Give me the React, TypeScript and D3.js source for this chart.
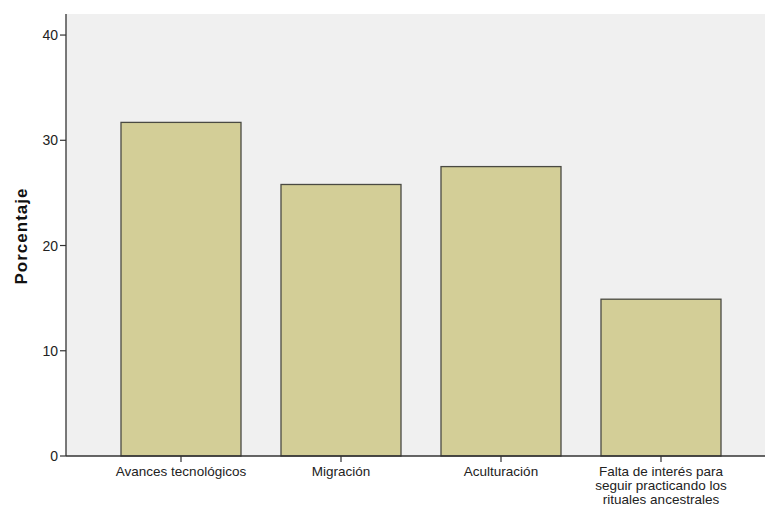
import React from "react";
import * as d3 from "d3";

const categories: string[][] = [
  ["Avances tecnológicos"],
  ["Migración"],
  ["Aculturación"],
  ["Falta de interés para", "seguir practicando los", "rituales ancestrales"],
];
const values: number[] = [31.7, 25.8, 27.5, 14.9];
const yTicks: number[] = [0, 10, 20, 30, 40];
const yLabel = "Porcentaje";

export default function App() {
  const W = 765, H = 505;
  const left = 66, top = 14, bottom = 456;
  const x = d3
    .scaleBand<number>()
    .domain(d3.range(values.length))
    .range([left, 776])
    .paddingInner(0.25)
    .paddingOuter(0.34375);
  const y = d3.scaleLinear().domain([0, 42]).range([bottom, top]);
  const font = "'Liberation Sans', Arial, sans-serif";
  const axisColor = "#333";
  return (
    <svg
      width={W}
      height={H}
      style={{ position: "absolute", left: 0, top: 0, background: "#fff" }}
    >
      <rect x={left} y={top} width={W - left} height={bottom - top} fill="#f0f0f0" />
      {values.map((v, i) => (
        <rect
          key={i}
          x={x(i)!}
          y={y(v)}
          width={x.bandwidth()}
          height={bottom - y(v)}
          fill="#d3ce97"
          stroke="#4a4a42"
          strokeWidth={1.3}
        />
      ))}
      <line x1={left} x2={left} y1={top} y2={bottom} stroke={axisColor} strokeWidth={1.3} />
      <line x1={left} x2={W} y1={bottom} y2={bottom} stroke={axisColor} strokeWidth={1.3} />
      {yTicks.map((t) => (
        <g key={t}>
          <line x1={left - 6} x2={left} y1={y(t)} y2={y(t)} stroke={axisColor} strokeWidth={1.2} />
          <text
            x={left - 8}
            y={y(t)}
            dy="0.36em"
            textAnchor="end"
            fontFamily={font}
            fontSize={14}
            fill="#222"
          >
            {t}
          </text>
        </g>
      ))}
      {categories.map((lines, i) => {
        const cx = x(i)! + x.bandwidth() / 2;
        return (
          <g key={i}>
            <line x1={cx} x2={cx} y1={bottom} y2={bottom + 6} stroke={axisColor} strokeWidth={1.2} />
            {lines.map((ln, j) => (
              <text
                key={j}
                x={cx}
                y={476 + j * 14}
                textAnchor="middle"
                fontFamily={font}
                fontSize={13.5}
                fill="#222"
              >
                {ln}
              </text>
            ))}
          </g>
        );
      })}
      <text
        transform={`translate(27, 236) rotate(-90)`}
        textAnchor="middle"
        fontFamily={font}
        fontSize={17}
        fontWeight="bold"
        letterSpacing={1}
        fill="#111"
      >
        {yLabel}
      </text>
    </svg>
  );
}
